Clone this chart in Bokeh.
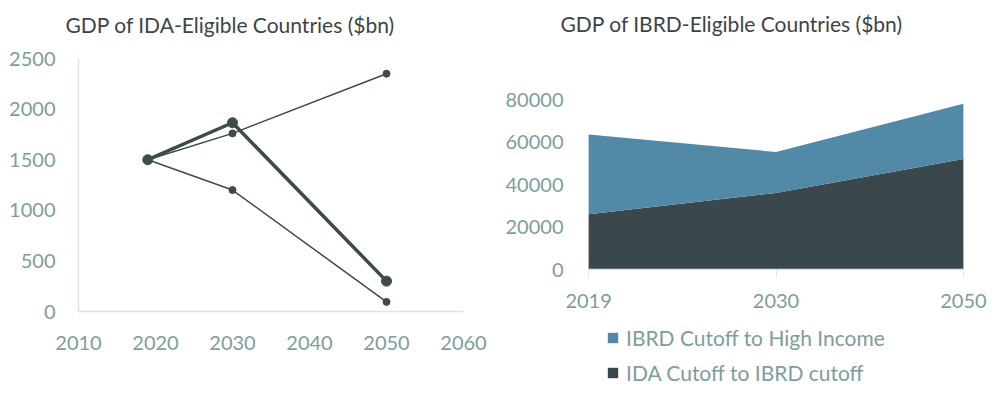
from bokeh.plotting import figure
from bokeh.models import Range1d, FixedTicker, Legend, LegendItem
from bokeh.embed import file_html
from bokeh.resources import INLINE

# ---- data ----
ida_years = [2019, 2030, 2050]
ida_main = [1500, 1865, 300]
ida_high = [1500, 1760, 2350]
ida_low = [1500, 1200, 95]

ibrd_years = ["2019", "2030", "2050"]
ida_to_ibrd = [26000, 36000, 52000]
ibrd_to_high = [37500, 19300, 26000]

FONT = "Lato"
TICK_C = "#7f9c9e"
TITLE_C = "#3b4547"
LINE_C = "#3e4a4c"
BLUE = "#5289a6"
DARK = "#3a474b"
AXIS_C = "#dde5e6"

# ---- left chart ----
p1 = figure(frame_width=385, frame_height=270, output_backend="svg", toolbar_location=None,
            x_range=Range1d(2010, 2060), y_range=Range1d(0, 2500 * 270 / 253),
            min_border_left=78, min_border_right=35, min_border_top=41, min_border_bottom=70)
p1.outline_line_color = None
p1.grid.visible = False

p1.title.text = "GDP of IDA-Eligible Countries ($bn)"
p1.title.text_font = FONT
p1.title.text_font_size = "21px"
p1.title.text_font_style = "normal"
p1.title.text_color = TITLE_C
p1.title.align = "left"
p1.title.offset = -13
p1.title.standoff = 10

p1.xaxis.ticker = FixedTicker(ticks=[2010, 2020, 2030, 2040, 2050, 2060])
p1.yaxis.ticker = FixedTicker(ticks=[0, 500, 1000, 1500, 2000, 2500])
p1.yaxis.bounds = (0, 2500)
for ax in (p1.xaxis[0], p1.yaxis[0]):
    ax.axis_line_color = AXIS_C
    ax.axis_line_width = 1.5
    ax.major_tick_line_color = None
    ax.major_tick_out = 0
    ax.major_tick_in = 0
    ax.minor_tick_line_color = None
    ax.major_label_text_font = FONT
    ax.major_label_text_font_size = "20px"
    ax.major_label_text_color = TICK_C
p1.xaxis.major_label_standoff = 24
p1.yaxis.major_label_standoff = 23

p1.line(ida_years, ida_high, line_color=LINE_C, line_width=1.5)
p1.scatter(ida_years, ida_high, size=7, color=LINE_C)
p1.line(ida_years, ida_low, line_color=LINE_C, line_width=1.5)
p1.scatter(ida_years, ida_low, size=7, color=LINE_C)
p1.line(ida_years, ida_main, line_color=LINE_C, line_width=3.5)
p1.scatter(ida_years, ida_main, size=10, color=LINE_C)

# ---- right chart ----
xs = list(range(len(ibrd_years)))
top = [a + b for a, b in zip(ida_to_ibrd, ibrd_to_high)]
zero = [0] * len(xs)

p2 = figure(frame_width=431, frame_height=344, output_backend="svg", toolbar_location=None,
            x_range=Range1d(-0.15, 2.15), y_range=Range1d(-55529, 106353),
            min_border_left=62, min_border_right=0, min_border_top=43, min_border_bottom=0)
p2.outline_line_color = None
p2.grid.visible = False

p2.title.text = "GDP of IBRD-Eligible Countries ($bn)"
p2.title.text_font = FONT
p2.title.text_font_size = "21px"
p2.title.text_font_style = "normal"
p2.title.text_color = TITLE_C
p2.title.align = "left"
p2.title.offset = 0
p2.title.standoff = 16

r_dark = p2.varea(x=xs, y1=zero, y2=ida_to_ibrd, fill_color=DARK)
r_blue = p2.varea(x=xs, y1=ida_to_ibrd, y2=top, fill_color=BLUE)

p2.xaxis.fixed_location = 0
p2.xaxis.bounds = (0, 2)
p2.xaxis.ticker = FixedTicker(ticks=xs)
p2.xaxis.major_label_overrides = {i: s for i, s in zip(xs, ibrd_years)}
p2.yaxis.ticker = FixedTicker(ticks=[0, 20000, 40000, 60000, 80000])
p2.yaxis.axis_line_color = None
p2.yaxis.major_tick_line_color = None
p2.yaxis.major_tick_out = 0
p2.yaxis.major_tick_in = 0
p2.yaxis.minor_tick_line_color = None
p2.yaxis.major_label_standoff = -3
p2.xaxis.axis_line_color = AXIS_C
p2.xaxis.axis_line_width = 1.5
p2.xaxis.major_tick_line_color = AXIS_C
p2.xaxis.major_tick_out = 8
p2.xaxis.major_tick_in = 0
p2.xaxis.minor_tick_line_color = None
p2.xaxis.major_label_standoff = 16
for ax in (p2.xaxis[0], p2.yaxis[0]):
    ax.major_label_text_font = FONT
    ax.major_label_text_font_size = "20px"
    ax.major_label_text_color = TICK_C

legend = Legend(items=[LegendItem(label="IBRD Cutoff to High Income", renderers=[r_blue]),
                       LegendItem(label="IDA Cutoff to IBRD cutoff", renderers=[r_dark])],
                location=(46, 2), padding=0, margin=0, spacing=10,
                glyph_width=13, glyph_height=13, label_height=20, label_standoff=7,
                label_text_font=FONT, label_text_font_size="21px", label_text_color=TICK_C,
                border_line_color=None, background_fill_alpha=0)
p2.add_layout(legend, "center")

template = ('{% block inner_body %}<div style="display:flex;flex-direction:row;">'
            '{{ super() }}</div>{% endblock %}')
open("out.html", "w").write(file_html([p1, p2], INLINE, template=template))
